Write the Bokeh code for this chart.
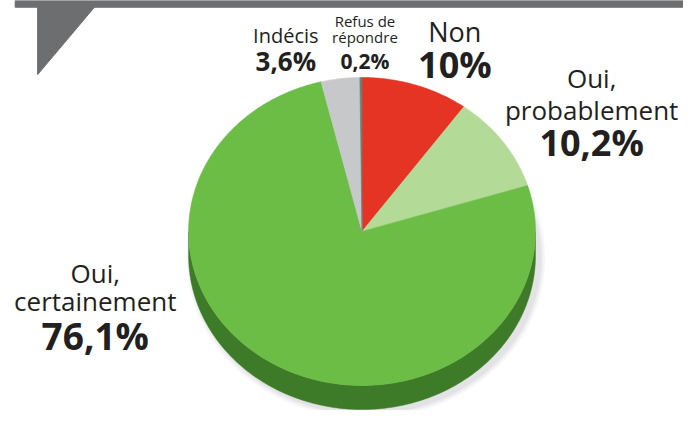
import numpy as np
from bokeh.plotting import figure
from bokeh.models import Range1d
from bokeh.core.properties import value
from bokeh.embed import file_html
from bokeh.resources import INLINE

# ---- data ----
categories = ["Non", "Oui, probablement", "Oui, certainement", "Indécis", "Refus de répondre"]
values = [10.0, 10.2, 76.1, 3.6, 0.2]
pct_labels = ["10%", "10,2%", "76,1%", "3,6%", "0,2%"]
name_lines = [["Non"], ["Oui,", "probablement"], ["Oui,", "certainement"], ["Indécis"], ["Refus de", "répondre"]]
colors = ["#e53424", "#b4da97", "#6cbd45", "#c7c8ca", "#77777a"]

# ---- geometry (reference pixel space, y downward) ----
W, H = 699, 426
cx, cy, rx, ry, depth = 370, 240, 177.5, 160, 25
side_color = "#3e7b29"
text_color = "#231f20"
FONT = value("Open Sans")

p = figure(width=683, height=410, x_range=Range1d(0, W), y_range=Range1d(H, 0),
           toolbar_location=None, output_backend="svg", min_border=0)
p.axis.visible = False
p.grid.visible = False
p.outline_line_color = None
p.background_fill_color = "white"
p.border_fill_color = "white"

# top bar and triangle
p.patch([15, W, W, 15], [0, 0, 7, 7], fill_color="#6d6e70", line_color="#6d6e70")
p.patch([38, 97, 38], [6, 6, 77], fill_color="#6d6e70", line_color="#6d6e70")

# soft shadow
for k, a in enumerate([0.05, 0.06, 0.08]):
    t = np.linspace(0, 2 * np.pi, 200)
    grow = 6 - 2 * k
    p.patch(cx + 4 + (rx + grow) * np.cos(t), cy + depth + 3 + (ry + grow) * np.sin(t),
            fill_color="#6b6b75", fill_alpha=a, line_color=None)

# side (extrusion)
t1 = np.linspace(np.pi, 2 * np.pi, 200)
xs_top = cx + rx * np.cos(t1)
ys_top = cy - ry * np.sin(t1)
xs = np.concatenate([xs_top, xs_top[::-1]])
ys = np.concatenate([ys_top, ys_top[::-1] + depth])
p.patch(xs, ys, fill_color=side_color, line_color=side_color, line_width=0.5)

# top face slices
vals = np.array(values, dtype=float)
frac = vals / vals.sum()
cum = np.concatenate([[0], np.cumsum(frac)])
for i in range(len(vals)):
    a0 = np.pi / 2 - 2 * np.pi * cum[i]
    a1 = np.pi / 2 - 2 * np.pi * cum[i + 1]
    n = max(4, int(abs(a1 - a0) * 80))
    tt = np.linspace(a0, a1, n)
    px = np.concatenate([[cx], cx + rx * np.cos(tt)])
    py = np.concatenate([[cy], cy - ry * np.sin(tt)])
    p.patch(px, py, fill_color=colors[i], line_color=colors[i], line_width=0.6)

# labels: (x, name y positions, pct y, name size, pct size)
label_pos = [
    (465, [32], 67, "27px", "36px"),
    (605, [81, 114], 148, "26px", "36px"),
    (97, [283, 312], 348, "26px", "37px"),
    (292, [36], 63, "20px", "26px"),
    (373, [21, 38], 63, "15px", "21px"),
]
for i, (x, nys, pyy, ns, ps) in enumerate(label_pos):
    for line, yy in zip(name_lines[i], nys):
        p.text(x=[x], y=[yy], text=[line], text_align="center", text_baseline="middle",
               text_font=FONT, text_font_size=ns, text_color=text_color)
    p.text(x=[x], y=[pyy], text=[pct_labels[i]], text_align="center", text_baseline="middle",
           text_font=FONT, text_font_size=ps, text_font_style="bold", text_color=text_color)

open("out.html", "w").write(file_html(p, INLINE))
